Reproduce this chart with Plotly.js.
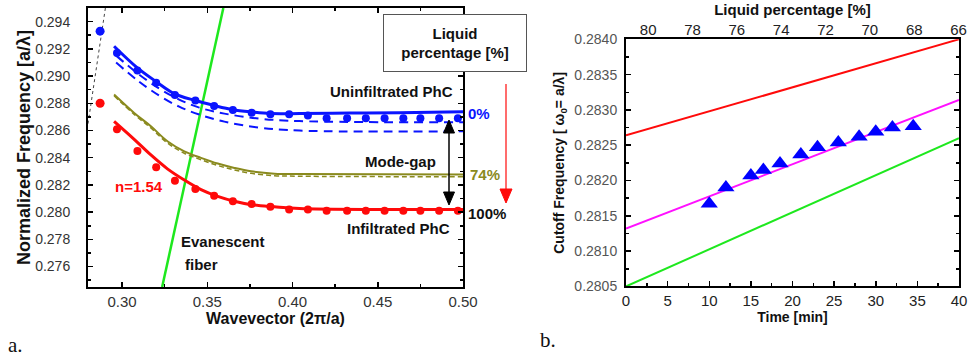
<!DOCTYPE html>
<html>
<head>
<meta charset="utf-8">
<script src="https://cdn.plot.ly/plotly-3.0.1.min.js"></script>
<style>html,body{margin:0;padding:0;background:#fff;}#chart{width:969px;height:360px;}</style>
</head>
<body>
<div id="chart"></div>
<script>
// ---------- Panel a data ----------
const kDots = [0.297, 0.309, 0.320, 0.331, 0.343, 0.354, 0.365, 0.376, 0.387, 0.398, 0.409, 0.420, 0.432, 0.443, 0.454, 0.465, 0.475, 0.486, 0.497];
const blueDots = [0.2917, 0.2904, 0.2895, 0.2886, 0.2882, 0.2878, 0.2875, 0.2873, 0.2872, 0.2872, 0.2871, 0.2869, 0.2869, 0.2869, 0.2869, 0.2869, 0.2869, 0.2869, 0.2869];
const redDots = [0.2861, 0.2845, 0.2833, 0.2823, 0.2817, 0.2812, 0.2808, 0.2806, 0.2804, 0.2802, 0.2802, 0.2801, 0.2801, 0.2801, 0.2801, 0.2801, 0.2801, 0.2801, 0.2801];

const blueFitX = [0.2953, 0.3088, 0.3200, 0.3306, 0.3429, 0.3541, 0.3647, 0.3765, 0.3871, 0.4041, 0.4335, 0.4629, 0.5000];
const blueFitY = [0.29219, 0.29062, 0.28959, 0.28871, 0.28820, 0.28783, 0.28753, 0.28735, 0.28724, 0.28724, 0.28728, 0.28731, 0.28737];

const blueDash1X = [0.2965, 0.3100, 0.3218, 0.3335, 0.3453, 0.3600, 0.3806, 0.4041, 0.5000];
const blueDash1Y = [0.29150, 0.29011, 0.28908, 0.28827, 0.28768, 0.28724, 0.28687, 0.28669, 0.28660];
const blueDash2X = [0.2965, 0.3100, 0.3218, 0.3335, 0.3453, 0.3600, 0.3806, 0.4041, 0.5000];
const blueDash2Y = [0.29099, 0.28959, 0.28856, 0.28775, 0.28717, 0.28665, 0.28621, 0.28599, 0.28594];

const oliveX = [0.2953, 0.3071, 0.3169, 0.3266, 0.3365, 0.3463, 0.3561, 0.3659, 0.3757, 0.3894, 0.4041, 0.5000];
const oliveY = [0.28864, 0.28729, 0.28631, 0.28521, 0.28447, 0.28399, 0.28357, 0.28325, 0.28300, 0.28283, 0.28280, 0.28276];
const oliveDashY = [0.28855, 0.28718, 0.28618, 0.28508, 0.28433, 0.28385, 0.28343, 0.28310, 0.28285, 0.28268, 0.28264, 0.28260];

const redFitX = [0.2953, 0.3071, 0.3169, 0.3266, 0.3365, 0.3463, 0.3561, 0.3659, 0.3757, 0.3894, 0.4041, 0.4512, 0.5000];
const redFitY = [0.28667, 0.28535, 0.28420, 0.28318, 0.28236, 0.28166, 0.28116, 0.28080, 0.28055, 0.28039, 0.28026, 0.28019, 0.28019];

const fiberX = [0.3235, 0.3594];
const fiberY = [0.2745, 0.2950];
const lightX = [0.2800, 0.2902];
const lightY = [0.2865, 0.2950];
const edgeK = [0.2871];
const edgeBlue = [0.2933];
const edgeRed = [0.2880];

// ---------- Panel b data ----------
const timeMin = [10, 12, 15, 16.5, 18.5, 21, 23, 25.5, 28, 30, 32, 34.5];
const cutoff = [0.28167, 0.28190, 0.28207, 0.28215, 0.28224, 0.28237, 0.28247, 0.28254, 0.28262, 0.28269, 0.28275, 0.28277];
const lineT = [0, 40];
const redLineB = [0.28264, 0.28400];
const magentaLineB = [0.28132, 0.28314];
const greenLineB = [0.28050, 0.28260];
const liquidTicks = [80, 78, 76, 74, 72, 70, 68, 66];

const FONT = 'Liberation Sans, Arial, sans-serif';
const BLUE = '#0a14ff', RED = '#ff0a0a', OLIVE = '#8a8a1e', GREEN = '#1ee81e', MAG = '#ff10ff';

const traces = [
  {x: lightX, y: lightY, mode: 'lines', line: {color: '#444', width: 1, dash: 'dot'}, xaxis: 'x', yaxis: 'y'},
  {x: fiberX, y: fiberY, mode: 'lines', line: {color: GREEN, width: 2.5}, xaxis: 'x', yaxis: 'y'},
  {x: blueDash2X, y: blueDash2Y, mode: 'lines', line: {color: BLUE, width: 2, dash: '9px,6px', shape: 'spline'}, xaxis: 'x', yaxis: 'y'},
  {x: blueDash1X, y: blueDash1Y, mode: 'lines', line: {color: BLUE, width: 2, dash: '9px,6px', shape: 'spline'}, xaxis: 'x', yaxis: 'y'},
  {x: blueFitX, y: blueFitY, mode: 'lines', line: {color: BLUE, width: 3, shape: 'spline'}, xaxis: 'x', yaxis: 'y'},
  {x: kDots, y: blueDots, mode: 'markers', marker: {color: BLUE, size: 8}, xaxis: 'x', yaxis: 'y'},
  {x: oliveX, y: oliveDashY, mode: 'lines', line: {color: OLIVE, width: 1.5, dash: '5px,3px', shape: 'spline'}, xaxis: 'x', yaxis: 'y'},
  {x: oliveX, y: oliveY, mode: 'lines', line: {color: OLIVE, width: 2, shape: 'spline'}, xaxis: 'x', yaxis: 'y'},
  {x: redFitX, y: redFitY, mode: 'lines', line: {color: RED, width: 3, shape: 'spline'}, xaxis: 'x', yaxis: 'y'},
  {x: kDots, y: redDots, mode: 'markers', marker: {color: RED, size: 8}, xaxis: 'x', yaxis: 'y'},
  {x: edgeK, y: edgeBlue, mode: 'markers', marker: {color: BLUE, size: 9}, xaxis: 'x', yaxis: 'y'},
  {x: edgeK, y: edgeRed, mode: 'markers', marker: {color: RED, size: 9}, xaxis: 'x', yaxis: 'y'},
  // panel b
  {x: lineT, y: redLineB, mode: 'lines', line: {color: RED, width: 2}, xaxis: 'x2', yaxis: 'y2'},
  {x: lineT, y: magentaLineB, mode: 'lines', line: {color: MAG, width: 2}, xaxis: 'x2', yaxis: 'y2'},
  {x: lineT, y: greenLineB, mode: 'lines', line: {color: GREEN, width: 2}, xaxis: 'x2', yaxis: 'y2'},
  {x: timeMin, y: cutoff, mode: 'markers', marker: {color: '#0000ff', size: 15, symbol: 'triangle-up'}, xaxis: 'x2', yaxis: 'y2'},
  {x: liquidTicks, y: liquidTicks.map(() => null), mode: 'markers', marker: {opacity: 0}, xaxis: 'x3', yaxis: 'y2', hoverinfo: 'skip'}
];

const axBase = {
  showline: true, linecolor: '#000', linewidth: 2, mirror: 'ticks',
  ticks: 'inside', ticklen: 5, tickwidth: 1.5, tickcolor: '#000',
  showgrid: false, zeroline: false, automargin: false
};

const px = (v) => v / 969, py = (v) => 1 - v / 360;
const ann = (text, x, y, color, size, extra) => Object.assign({
  text: text, x: px(x), y: py(y), xref: 'paper', yref: 'paper', showarrow: false,
  xanchor: 'center', yanchor: 'middle',
  font: {family: FONT, size: size || 15, color: color || '#111', weight: 'bold'}
}, extra || {});

// arrow helpers (paper coordinates from pixel positions)
const vline = (x, y0, y1, color, w) => ({type: 'line', xref: 'paper', yref: 'paper',
  x0: px(x), x1: px(x), y0: py(y0), y1: py(y1), line: {color: color, width: w}});
const head = (x, tipY, baseY, halfW, color) => ({type: 'path', xref: 'paper', yref: 'paper',
  path: `M ${px(x)},${py(tipY)} L ${px(x - halfW)},${py(baseY)} L ${px(x + halfW)},${py(baseY)} Z`,
  fillcolor: color, line: {color: color, width: 1}});

const layout = {
  width: 969, height: 360,
  margin: {l: 0, r: 0, t: 0, b: 0},
  paper_bgcolor: '#fff', plot_bgcolor: '#fff',
  showlegend: false, hovermode: false,
  font: {family: FONT},
  xaxis: Object.assign({}, axBase, {
    domain: [88 / 969, 463 / 969], range: [0.28, 0.50], anchor: 'y',
    tickvals: [0.30, 0.35, 0.40, 0.45, 0.50], tickformat: '.2f',
    minor: {dtick: 0.025, tick0: 0.275, ticks: 'inside', ticklen: 3, tickcolor: '#000'},
    tickfont: {family: FONT, size: 15, color: '#333'},
    title: {text: '<b>Wavevector (2π/a)</b>', font: {family: FONT, size: 16, color: '#111'}, standoff: 4}
  }),
  yaxis: Object.assign({}, axBase, {
    domain: [1 - 287 / 360, 1 - 8 / 360], range: [0.2745, 0.295], anchor: 'x',
    dtick: 0.002, tick0: 0.276, tickformat: '.3f', ticklabelstandoff: 13,
    minor: {dtick: 0.001, tick0: 0.275, ticks: 'inside', ticklen: 3, tickcolor: '#000'},
    tickfont: {family: FONT, size: 14, color: '#333'},
    title: {text: '<b>Normalized Frequency [a/λ]</b>', font: {family: FONT, size: 18, color: '#111'}, standoff: 0}
  }),
  xaxis2: Object.assign({}, axBase, {
    domain: [626 / 969, 959 / 969], range: [0, 40], anchor: 'y2', mirror: true,
    dtick: 5, tick0: 0,
    minor: {dtick: 2.5, ticks: 'inside', ticklen: 3, tickcolor: '#000'},
    tickfont: {family: FONT, size: 15, color: '#222'},
    title: {text: '<b>Time [min]</b>', font: {family: FONT, size: 14, color: '#111'}, standoff: 2}
  }),
  yaxis2: Object.assign({}, axBase, {
    domain: [1 - 286.4 / 360, 1 - 39.3 / 360], range: [0.2805, 0.2840], anchor: 'x2',
    dtick: 0.0005, tick0: 0.2805, tickformat: '.4f', ticklabelstandoff: 4,
    minor: {dtick: 0.00025, ticks: 'inside', ticklen: 3, tickcolor: '#000'},
    tickfont: {family: FONT, size: 14, color: '#555'},
    title: {text: '<b>Cutoff Frequency [ ω<sub>0</sub>= a/λ]</b>', font: {family: FONT, size: 14, color: '#111'}, standoff: 6}
  }),
  xaxis3: {
    domain: [626 / 969, 959 / 969], range: [81, 65.98], anchor: 'y2', overlaying: 'x2', side: 'top',
    tickvals: liquidTicks, ticks: '', showline: false, showgrid: false, zeroline: false, automargin: false,
    tickfont: {family: FONT, size: 15, color: '#222'},
    title: {text: '<b>Liquid percentage [%]</b>', font: {family: FONT, size: 15, color: '#111'}, standoff: 2}
  },
  shapes: [
    // red liquid-percentage arrow
    vline(506, 84, 192, RED, 1.2),
    head(506, 203, 189, 6, RED),
    // mode-gap double arrow
    vline(449, 130, 195, '#000', 1.5),
    head(449, 120, 133, 5.5, '#000'),
    head(449, 205, 192, 5.5, '#000')
  ],
  annotations: [
    ann('Liquid<br>percentage [%]', 455, 42.5, '#111', 15, {bordercolor: '#555', borderwidth: 1, borderpad: 3, width: 136, height: 50, bgcolor: '#fff'}),
    ann('Uninfiltrated PhC', 391.7, 91, '#111', 15),
    ann('0%', 479.3, 113.3, BLUE, 15),
    ann('Mode-gap', 400.7, 161, '#111', 15),
    ann('74%', 485, 174.5, OLIVE, 15),
    ann('100%', 486.7, 213.3, '#111', 15),
    ann('Infiltrated PhC', 398.3, 228.3, '#111', 15),
    ann('n=1.54', 139, 186.7, RED, 15),
    ann('Evanescent', 179, 241.7, '#111', 15, {xanchor: 'left'}),
    ann('fiber', 183, 264.3, '#111', 15, {xanchor: 'left'}),
    {text: 'a.', x: px(15), y: py(345), xref: 'paper', yref: 'paper', xanchor: 'center', yanchor: 'middle', showarrow: false, font: {family: 'Liberation Serif, serif', size: 21, color: '#111'}},
    {text: 'b.', x: px(548), y: py(340), xref: 'paper', yref: 'paper', xanchor: 'center', yanchor: 'middle', showarrow: false, font: {family: 'Liberation Serif, serif', size: 21, color: '#111'}}
  ]
};

Plotly.newPlot('chart', traces, layout, {staticPlot: true, displayModeBar: false});
</script>
</body>
</html>
